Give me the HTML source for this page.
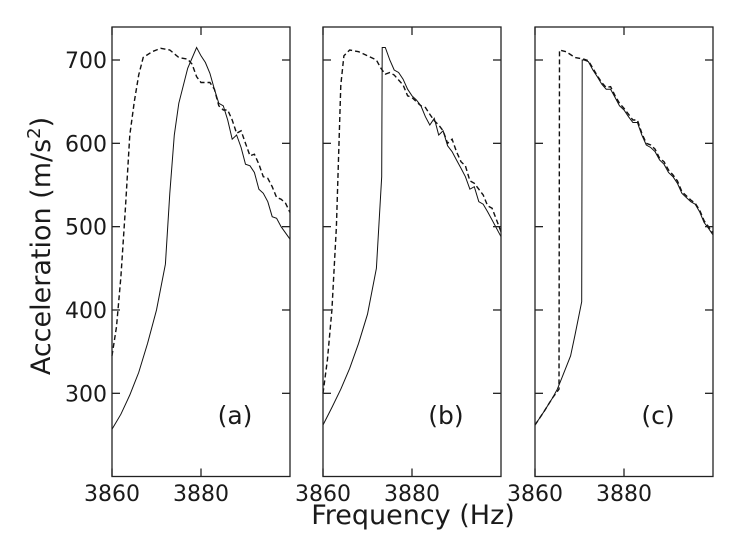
<!DOCTYPE html>
<html><head><meta charset="utf-8"><style>
html,body{margin:0;padding:0;background:#fff;}
svg{display:block;font-family:"DejaVu Sans","Liberation Sans",sans-serif;}
</style></head><body>
<svg id="s" width="733" height="536" xmlns="http://www.w3.org/2000/svg">
<text x="0" y="0" font-size="27" fill="#1a1a1a" text-anchor="middle" transform="translate(50,246) rotate(-90)">Acceleration (m/s<tspan font-size="18" dy="-10">2</tspan><tspan dy="10">)</tspan></text>
<text x="413" y="524" font-size="27" fill="#1a1a1a" text-anchor="middle">Frequency (Hz)</text>
</svg>
<script>
var s=document.getElementById('s');var NS='http://www.w3.org/2000/svg';
function el(t,a,txt){var e=document.createElementNS(NS,t);for(var k in a)e.setAttribute(k,a[k]);if(txt)e.textContent=txt;s.appendChild(e);return e;}
var T=27,B=476.5,W=178;
function Y(v){return 60+(700-v)*0.8333;}
var solidA=[[3860,257],[3862,275],[3864,298],[3866,325],[3868,360],[3870,400],[3872,455],[3873,540],[3874,610],[3875,648],[3877,690],[3879,715],[3880,705],[3881,697],[3882,684],[3883,665],[3884,648],[3885,645],[3886,628],[3887,605],[3888,610],[3889,595],[3890,575],[3891,573],[3892,565],[3893,545],[3894,540],[3895,530],[3896,512],[3897,510],[3898,500],[3900,485]];
var dashA=[[3860,345],[3861,380],[3862,440],[3863,520],[3864,610],[3865,650],[3866,682],[3867,703],[3869,710],[3871,714],[3873,712],[3875,703],[3877,701],[3878,695],[3879,680],[3880,673],[3882,673],[3883,665],[3884,645],[3885,640],[3886,640],[3887,628],[3888,612],[3889,615],[3890,600],[3891,585],[3892,587],[3893,575],[3894,560],[3895,558],[3896,548],[3897,535],[3898,533],[3899,528],[3900,517]];
var tailB=[[3874,715],[3875,700],[3876,688],[3877,685],[3878,677],[3879,665],[3880,657],[3881,652],[3882,645],[3883,632],[3884,622],[3885,630],[3886,610],[3887,615],[3888,597],[3889,590],[3890,580],[3891,570],[3892,560],[3893,545],[3894,548],[3895,530],[3896,527],[3897,518],[3898,508],[3900,488]];
var solidB=[[3860,262],[3862,283],[3864,305],[3866,330],[3868,360],[3870,395],[3872,450],[3873.2,560],[3873.3,715]].concat(tailB);
var dashB=[[3860,300],[3861,340],[3862,400],[3863,500],[3864,670],[3864.7,705],[3866,712],[3868,710],[3870,705],[3872,700],[3873,690],[3874,683],[3875,685],[3876,682],[3877,676],[3878,670],[3879,657],[3880,655],[3881,650],[3882,645],[3883,643],[3884,635],[3885,627],[3886,622],[3887,615],[3888,600],[3889,605],[3890,590],[3891,578],[3892,573],[3893,555],[3894,552],[3895,545],[3896,538],[3897,525],[3898,522],[3900,494]];
var tailC=[[3871,700],[3872,698],[3873,688],[3874,680],[3875,671],[3876,665],[3877,665],[3878,655],[3879,645],[3880,640],[3881,632],[3882,625],[3883,625],[3884,610],[3885,598],[3886,595],[3887,590],[3888,580],[3889,575],[3890,565],[3891,560],[3892,552],[3893,540],[3894,535],[3895,530],[3896,527],[3897,518],[3898,505],[3899,498],[3900,490]];
var solidC=[[3860,262],[3862,278],[3864,295],[3865,305],[3866,318],[3868,345],[3869,370],[3870.5,410],[3870.6,700]].concat(tailC);
var dashC=[[3860,262],[3862,278],[3864,295],[3865.4,305],[3865.5,712],[3867,710],[3869,703],[3871,701],[3872,699],[3873,690],[3874,681],[3875,673],[3876,667],[3877,668],[3878,657],[3879,648],[3880,642],[3881,635],[3882,628],[3883,628],[3884,612],[3885,600],[3886,598],[3887,593],[3888,582],[3889,578],[3890,568],[3891,562],[3892,555],[3893,542],[3894,537],[3895,532],[3896,528],[3897,520],[3898,507],[3899,500],[3900,492]];
var panels=[[112,solidA,dashA,'(a)'],[323,solidB,dashB,'(b)'],[535,solidC,dashC,'(c)']];
panels.forEach(function(p,i){
 var L=p[0],R=L+W;
 function X(f){return L+(f-3860)*4.45;}
 function pts(d){return d.map(function(q){return X(q[0]).toFixed(1)+','+Y(q[1]).toFixed(1);}).join(' ');}
 el('polyline',{points:pts(p[1]),fill:'none',stroke:'#111','stroke-width':1});
 el('polyline',{points:pts(p[2]),fill:'none',stroke:'#111','stroke-width':1.4,'stroke-dasharray':'5,3'});
 el('rect',{x:L,y:T,width:W,height:B-T,fill:'none',stroke:'#222','stroke-width':1.3});
 [300,400,500,600,700].forEach(function(v){var y=Y(v);
  el('line',{x1:L,y1:y,x2:L+8,y2:y,stroke:'#222','stroke-width':1.3});
  el('line',{x1:R-8,y1:y,x2:R,y2:y,stroke:'#222','stroke-width':1.3});
  if(i==0)el('text',{x:L-5,y:y+8,'font-size':22,'text-anchor':'end',fill:'#1a1a1a'},String(v));});
 [3860,3880].forEach(function(f){var x=X(f);
  el('line',{x1:x,y1:B,x2:x,y2:B-8,stroke:'#222','stroke-width':1.3});
  el('line',{x1:x,y1:T,x2:x,y2:T+8,stroke:'#222','stroke-width':1.3});
  el('text',{x:x,y:501,'font-size':22,'text-anchor':'middle',fill:'#1a1a1a'},String(f));});
 el('text',{x:L+123,y:424,'font-size':25,'text-anchor':'middle',fill:'#1a1a1a'},p[3]);
});
</script>
</body></html>
